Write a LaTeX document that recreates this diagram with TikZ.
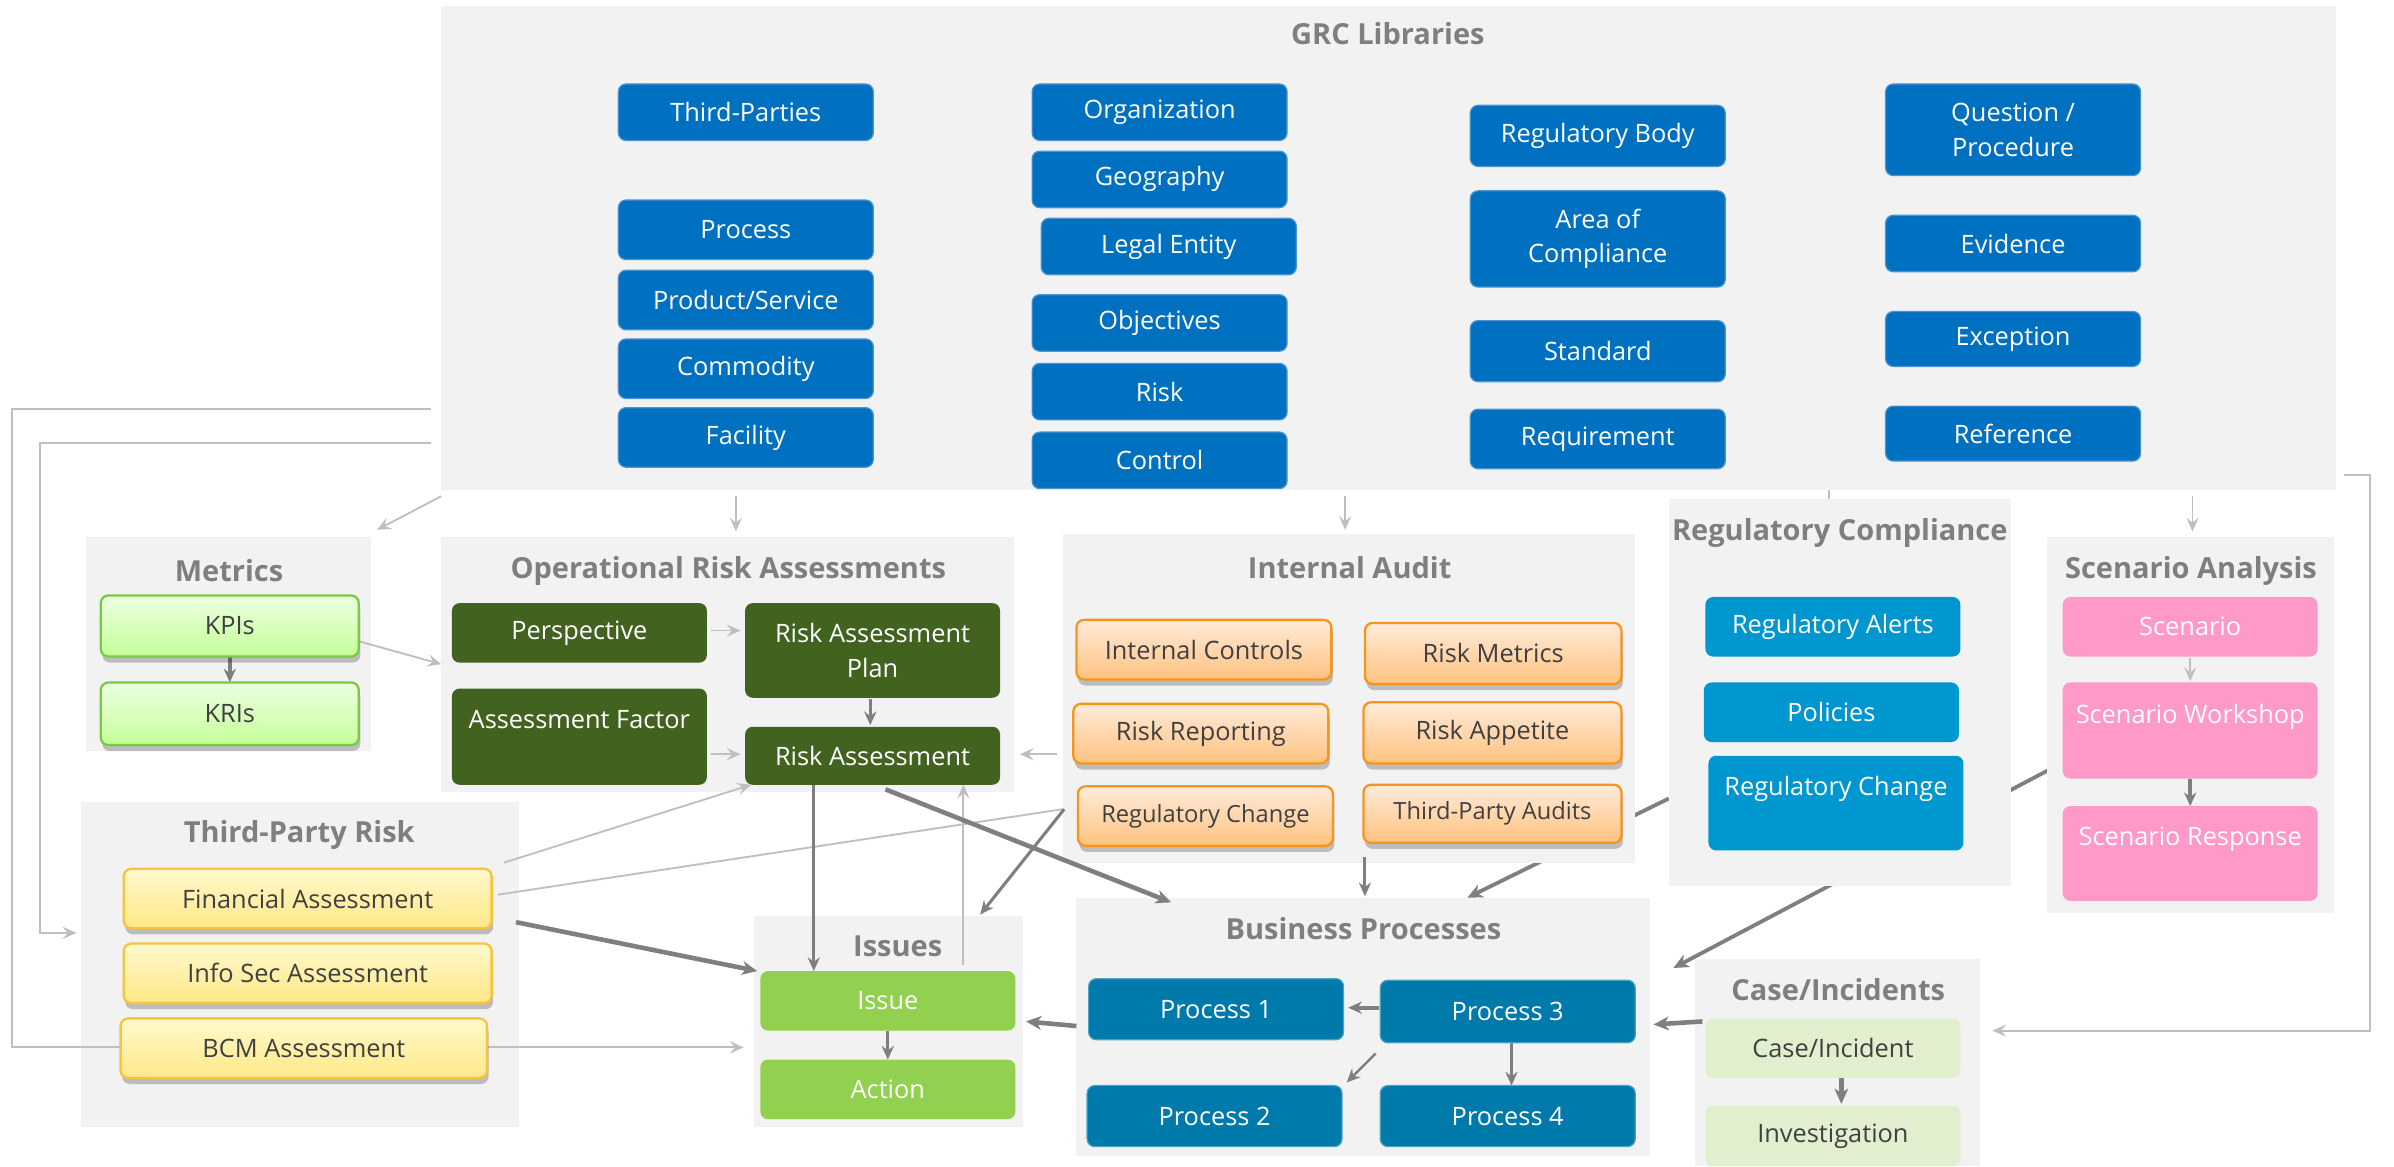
\documentclass[tikz,border=0pt]{standalone}
\usepackage{fontspec}
\setmainfont{Open Sans}
\usetikzlibrary{arrows.meta,calc,shadows}
\definecolor{contgray}{HTML}{F2F2F2}
\definecolor{titlegray}{HTML}{7F7F7F}
\definecolor{grcblue}{HTML}{0070C0}
\definecolor{grcborder}{HTML}{4A94D4}
\definecolor{oragreen}{HTML}{426220}
\definecolor{orangetop}{HTML}{FFEBDA}
\definecolor{orangebot}{HTML}{FFC27F}
\definecolor{orangeborder}{HTML}{F7941E}
\definecolor{yellowtop}{HTML}{FFF9CC}
\definecolor{yellowbot}{HTML}{FFE888}
\definecolor{yellowborder}{HTML}{F9C33C}
\definecolor{kpitop}{HTML}{EDFFE2}
\definecolor{kpibot}{HTML}{C4FF98}
\definecolor{kpiborder}{HTML}{7AC943}
\definecolor{rcblue}{HTML}{0096CF}
\definecolor{pinkbox}{HTML}{FF99CA}
\definecolor{issuegreen}{HTML}{92D050}
\definecolor{procteal}{HTML}{007AAA}
\definecolor{casegreen}{HTML}{E2EFCF}
\definecolor{boxtext}{HTML}{404040}
\definecolor{ltgray}{HTML}{BFBFBF}
\definecolor{dkgray}{HTML}{7F7F7F}
\pgfdeclarelayer{bgl}
\pgfdeclarelayer{contl}
\pgfdeclarelayer{linel}
\pgfsetlayers{bgl,contl,linel,main}
\tikzset{
  cont/.style={fill=contgray, inner sep=0pt, outer sep=0pt},
  ttl/.style={font=\bfseries\fontsize{19}{22}\selectfont, text=titlegray, inner sep=0pt},
  sz/.style 2 args={minimum width=#1pt, minimum height=#2pt},
  bx/.style={rounded corners=5pt, inner sep=1pt, outer sep=0pt, align=center, font=\fontsize{16.6}{22.5}\selectfont},
  shad/.style={drop shadow={shadow xshift=1pt, shadow yshift=-4pt, opacity=0.22, fill=black}},
  grcbox/.style={bx, fill=grcblue, draw=grcborder, line width=0.8pt, text=white},
  orabox/.style={bx, fill=oragreen, text=white},
  iabox/.style={bx, shad, top color=orangetop, bottom color=orangebot, draw=orangeborder, line width=1.5pt, text=boxtext},
  tprbox/.style={bx, shad, top color=yellowtop, bottom color=yellowbot, draw=yellowborder, line width=1.5pt, text=boxtext},
  kpibox/.style={bx, shad, top color=kpitop, bottom color=kpibot, draw=kpiborder, line width=1.5pt, text=boxtext},
  rcbox/.style={bx, fill=rcblue, text=white},
  sabox/.style={bx, fill=pinkbox, text=white},
  isbox/.style={bx, fill=issuegreen, text=white},
  prbox/.style={bx, fill=procteal, draw=procteal!70!white, line width=0.8pt, text=white},
  cibox/.style={bx, fill=casegreen, text=boxtext},
  lt/.style={draw=ltgray, line width=1.2pt, -{Stealth[length=9pt, width=8pt, inset=3.5pt]}},
  ltl/.style={draw=ltgray, line width=1.2pt},
  dk/.style={draw=dkgray, line width=2pt, -{Stealth[length=9pt, width=8pt, inset=3pt]}},
  dkk/.style={draw=dkgray, line width=3pt, -{Stealth[length=10pt, width=9pt, inset=3pt]}},
}
\begin{document}
\begin{tikzpicture}[x=1pt,y=-1pt]
\useasboundingbox (0,0) rectangle (1568,764);

% ---------- containers ----------
\begin{pgfonlayer}{contl}
\node[cont, sz={1241}{317}] (grc) at (909.5,162.5) {};
\node[cont, sz={187}{140}] (metrics) at (149.5,422) {};
\node[cont, sz={375}{167}] (ora) at (476.5,435.5) {};
\node[cont, sz={375}{215}] (ia) at (883.5,457.5) {};
\node[cont, sz={224}{253}] (rc) at (1205,453.5) {};
\node[cont, sz={188}{246}] (sa) at (1435,475) {};
\node[cont, sz={287}{213}] (tpr) at (196.5,631.5) {};
\node[cont, sz={176}{138}] (issues) at (582,669) {};
\node[cont, sz={376}{169}] (bp) at (893,672.5) {};
\node[cont, sz={187}{136}] (ci) at (1203.5,696) {};
\end{pgfonlayer}

% ---------- titles ----------
\node[ttl] (grcT) at (909,22) {GRC Libraries};
\node[ttl] (metricsT) at (150,374) {Metrics};
\node[ttl] (oraT) at (477,374) {Operational Risk Assessments};
\node[ttl] (iaT) at (884,372) {Internal Audit};
\node[ttl] (rcT) at (1205,349) {Regulatory Compliance};
\node[ttl] (saT) at (1435,374) {Scenario Analysis};
\node[ttl] (tprT) at (196,547) {Third-Party Risk};
\node[ttl] (issuesT) at (588,620) {Issues};
\node[ttl] (bpT) at (893,608) {Business Processes};
\node[ttl] (ciT) at (1204,648) {Case/Incidents};

% ---------- GRC libraries ----------
\node[grcbox, sz={167}{37}] (thirdp) at (488.5,73.5) {Third-Parties};
\node[grcbox, sz={167}{39}] (process) at (488.5,150.5) {Process};
\node[grcbox, sz={167}{39}] (prodserv) at (488.5,196.5) {Product/Service};
\node[grcbox, sz={167}{39}] (commod) at (488.5,241.5) {Commodity};
\node[grcbox, sz={167}{39}] (facility) at (488.5,286.5) {Facility};

\node[grcbox, sz={167}{37}] (org) at (759.5,73.5) {Organization};
\node[grcbox, sz={167}{37}] (geo) at (759.5,117.5) {Geography};
\node[grcbox, sz={167}{37}] (legal) at (765.5,161.5) {Legal Entity};
\node[grcbox, sz={167}{37}] (obj) at (759.5,211.5) {Objectives};
\node[grcbox, sz={167}{37}] (risk) at (759.5,256.5) {Risk};
\node[grcbox, sz={167}{37}] (control) at (759.5,301.5) {Control};

\node[grcbox, sz={167}{40}] (regbody) at (1046.5,89) {Regulatory Body};
\node[grcbox, sz={167}{63}] (area) at (1046.5,156.5) {Area of\\Compliance};
\node[grcbox, sz={167}{40}] (standard) at (1046.5,230) {Standard};
\node[grcbox, sz={167}{39}] (requirement) at (1046.5,287.5) {Requirement};

\node[grcbox, sz={167}{60}] (question) at (1318.5,85) {Question /\\Procedure};
\node[grcbox, sz={167}{37}] (evidence) at (1318.5,159.5) {Evidence};
\node[grcbox, sz={167}{36}] (exception) at (1318.5,222) {Exception};
\node[grcbox, sz={167}{36}] (reference) at (1318.5,284) {Reference};

% ---------- Metrics ----------
\node[kpibox, sz={169}{40}] (kpis) at (150.5,410) {KPIs};
\node[kpibox, sz={169}{41}] (kris) at (150.5,467.5) {KRIs};

% ---------- ORA ----------
\node[orabox, sz={167}{39}] (persp) at (379.5,414.5) {Perspective};
\node[orabox, sz={167}{63}] (af) at (379.5,482.5) {Assessment Factor\\\phantom{X}};
\node[orabox, sz={167}{62}] (raplan) at (571.5,426) {Risk Assessment\\Plan};
\node[orabox, sz={167}{38}] (ra) at (571.5,495) {Risk Assessment};

% ---------- Internal Audit ----------
\node[iabox, sz={167}{39}] (intctrl) at (788.5,425.5) {Internal Controls};
\node[iabox, sz={168}{40}] (riskmet) at (978,428) {Risk Metrics};
\node[iabox, sz={167}{39}] (riskrep) at (786.5,480.5) {Risk Reporting};
\node[iabox, sz={169}{40}] (riskapp) at (977.5,480) {Risk Appetite};
\node[iabox, sz={167}{39}, font=\fontsize{15.5}{22}\selectfont] (rcia) at (789.5,534.5) {Regulatory Change};
\node[iabox, sz={169}{38}, font=\fontsize{15.5}{22}\selectfont] (tpaud) at (977.5,533) {Third-Party Audits};

% ---------- Regulatory Compliance ----------
\node[rcbox, sz={167}{39}] (regalerts) at (1200.5,410.5) {Regulatory Alerts};
\node[rcbox, sz={167}{39}] (policies) at (1199.5,466.5) {Policies};
\node[rcbox, sz={167}{62}] (rcrc) at (1202.5,526) {Regulatory Change\\\phantom{X}};

% ---------- Scenario Analysis ----------
\node[sabox, sz={167}{39}] (scen) at (1434.5,410.5) {Scenario};
\node[sabox, sz={167}{63}] (wksp) at (1434.5,478.5) {Scenario Workshop\\\phantom{X}};
\node[sabox, sz={167}{62}] (resp) at (1434.5,559) {Scenario Response\\\phantom{X}};

% ---------- Third-Party Risk ----------
\node[tprbox, sz={241}{39}] (fin) at (201.5,588.5) {Financial Assessment};
\node[tprbox, sz={241}{39}] (infosec) at (201.5,637.5) {Info Sec Assessment};
\node[tprbox, sz={240}{39}] (bcm) at (199,686.5) {BCM Assessment};

% ---------- Issues ----------
\node[isbox, sz={167}{39}] (issue) at (581.5,655.5) {Issue};
\node[isbox, sz={167}{39}] (action) at (581.5,713.5) {Action};

% ---------- Business Processes ----------
\node[prbox, sz={167}{40}] (p1) at (796.5,661) {Process 1};
\node[prbox, sz={167}{41}] (p3) at (987.5,662.5) {Process 3};
\node[prbox, sz={167}{40}] (p2) at (795.5,731) {Process 2};
\node[prbox, sz={167}{40}] (p4) at (987.5,731) {Process 4};

% ---------- Case/Incidents ----------
\node[cibox, sz={167}{39}] (caseinc) at (1200.5,686.5) {Case/Incident};
\node[cibox, sz={167}{40}] (invest) at (1200.5,744) {Investigation};

% ---------- connectors behind containers ----------
\begin{pgfonlayer}{bgl}
\fill[white] (0,0) rectangle (1568,764);
\draw[draw=dkgray, line width=2.5pt, -{Stealth[length=10pt, width=9pt, inset=3pt]}]
  ($(rc.west)+(0,69.5)$) -- ($(bp.north)+(68,0)$);
\draw[draw=dkgray, line width=2.5pt, -{Stealth[length=10pt, width=9pt, inset=3pt]}]
  ($(wksp.west)+(-1,21.5)$) -- ($(ci.north west)+(-14,6)$);
\end{pgfonlayer}

% ---------- connectors ----------
\begin{pgfonlayer}{linel}
% from GRC Libraries
\draw[lt] ($(grc.south west)+(0,4)$) -- ($(metrics.north east)+(4,-5)$);
\draw[lt] ($(ora.north |- grc.south)+(5.5,4)$) -- ($(ora.north)+(5.5,-4)$);
\draw[lt] ($(ia.north |- grc.south)+(-2.5,4)$) -- ($(ia.north)+(-2.5,-3)$);
\draw[ltl] ($(rc.north |- grc.south)+(-7,0)$) -- ($(rc.north)+(-7,0)$);
\draw[lt] ($(sa.north |- grc.south)+(1,4)$) -- ($(sa.north)+(1,-4)$);
\draw[lt] ($(grc.south west)+(-7,-53)$) -- ++(-274,0) |- ($(issues.west)+(-7,17)$);
\draw[lt] ($(grc.south west)+(-7,-31)$) -- ++(-256,0) |- ($(tpr.west)+(-3,-20.5)$);
\draw[lt] ($(grc.south east)+(5,-10)$) -- ++(17,0) |- ($(ci.east)+(8,-21)$);
% light connectors
\draw[lt] ($(kpis.east)+(0,10)$) -- ($(ora.west)+(0,-0.5)$);
\draw[lt] ($(persp.east)+(3,-1.5)$) -- ($(persp.east -| raplan.west)+(-3,-1.5)$);
\draw[lt] ($(af.east |- ra.west)+(3,-1)$) -- ($(ra.west)+(-3,-1)$);
\draw[lt] ($(ia.west |- ra.east)+(-4,-1)$) -- ($(ra.east)+(13,-1)$);
\draw[lt] ($(fin.north east)+(8,-4)$) -- ($(ra.south west)+(4,0)$);
\draw[ltl] ($(fin.east)+(4,-2.5)$) -- ($(rcia.west)+(-10,-4.5)$);
\draw[lt] ($(issues.north)+(49,32)$) -- ($(ra.south)+(59.5,0)$);
\draw[lt] ($(scen.south)+(0,1)$) -- ($(wksp.north)+(0,-1)$);
% dark connectors
\draw[dk, line width=2.5pt] (kpis.south) -- (kris.north);
\draw[dk] ($(raplan.south)+(-1.5,1)$) -- ($(ra.north)+(-1.5,-1)$);
\draw[dk] ($(ra.south)+(-38.5,0)$) -- ($(issue.north)+(-48.5,0)$);
\draw[dkk] ($(ra.south)+(8.5,3)$) -- ($(bp.north west)+(62,3)$);
\draw[dk] ($(rcia.west)+(-9,-4.5)$) -- ($(issues.north east)+(-28,-1)$);
\draw[dkk] ($(fin.south east)+(16,-4)$) -- ($(issue.north west)+(-2,0)$);
\draw[dk] ($(ia.south)+(10.5,-4)$) -- ($(bp.north)+(1,-1)$);
\draw[dkk] ($(caseinc.west)+(-2,-17.5)$) -- ($(p3.east)+(12,8.5)$);
\draw[dk, line width=2.5pt] ($(p3.west)+(-1,-2.5)$) -- ($(p1.east)+(3,-1)$);
\draw[dk, line width=1.6pt] ($(p3.south)+(2.5,-4)$) -- ($(p4.north)+(2.5,0)$);
\draw[dk, line width=1.6pt] ($(p3.south west)+(-3,7)$) -- ($(p2.north east)+(3,-2)$);
\draw[dkk] ($(bp.west)+(0,-0.5)$) -- ($(issue.east)+(7,13.5)$);
\draw[dk] (issue.south) -- (action.north);
\draw[dkk] ($(caseinc.south)+(5.5,0)$) -- ($(invest.north)+(5.5,-1)$);
\draw[dk, line width=2.5pt] (wksp.south) -- (resp.north);
\end{pgfonlayer}
\end{tikzpicture}
\end{document}
